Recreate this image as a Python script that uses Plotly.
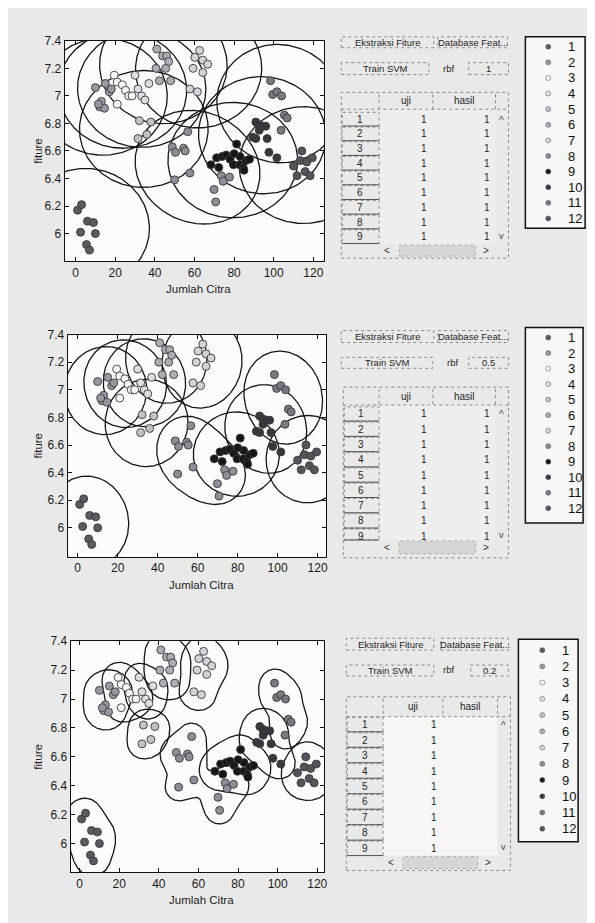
import numpy as np
import plotly.graph_objects as go

W, H = 595, 923

# ---------------- data ----------------
class_names = ['1', '2', '3', '4', '5', '6', '7', '8', '9', '10', '11', '12']

c1_x = [1, 3, 6, 9, 2.5, 10, 5.5, 7]
c1_y = [6.17, 6.21, 6.09, 6.08, 6.01, 6.0, 5.92, 5.88]
c2_x = [10, 12.2, 13, 14.6, 15, 17, 18, 11.5]
c2_y = [7.06, 6.92, 6.96, 6.91, 7.09, 7.03, 7.05, 6.94]
c3_x = [19.5, 21, 23.6, 25.2, 26.8, 28.5, 21]
c3_y = [7.15, 7.10, 7.08, 7.04, 7.0, 7.0, 6.94]
c4_x = [30, 33.3, 35, 37, 31.5]
c4_y = [7.15, 7.0, 6.97, 7.09, 7.05]
c5_x = [32.2, 38, 31.5, 36]
c5_y = [6.82, 6.81, 6.69, 6.72]
c6_x = [41, 43.9, 46, 40.6, 45.5, 42.3, 48, 47]
c6_y = [7.34, 7.29, 7.29, 7.2, 7.2, 7.11, 7.11, 7.25]
c7_x = [62.6, 60.2, 64.2, 66.7, 59.3, 64.2, 57.7, 61.5]
c7_y = [7.33, 7.28, 7.26, 7.23, 7.2, 7.17, 7.05, 7.03]
c8_x = [56.6, 48.8, 50.4, 54.5, 55.3, 57.7, 50, 73.5, 74.5, 77.7, 69.9, 70.7]
c8_y = [6.74, 6.63, 6.59, 6.62, 6.6, 6.44, 6.39, 6.42, 6.38, 6.41, 6.32, 6.23]
c9_x = [68.3, 71.2, 74, 76, 78, 79.7, 81.3, 82.9, 84.6, 86, 87.8, 83, 85, 80, 72.3]
c9_y = [6.5, 6.55, 6.56, 6.57, 6.54, 6.5, 6.65, 6.5, 6.48, 6.53, 6.54, 6.56, 6.46, 6.58, 6.48]
c10_x = [91, 92.5, 94.5, 96, 92.7, 91, 96.7, 89.4, 97.6, 101.6]
c10_y = [6.81, 6.79, 6.78, 6.78, 6.75, 6.69, 6.69, 6.7, 6.59, 6.55]
c11_x = [98.4, 99.5, 101.6, 104, 105.4, 103.7, 106.8]
c11_y = [7.11, 7.01, 7.03, 7.0, 6.86, 6.75, 6.84]
c12_x = [110, 113.4, 116.7, 115.9, 118.4, 111.8, 114.2, 119.5]
c12_y = [6.49, 6.53, 6.52, 6.45, 6.42, 6.42, 6.6, 6.55]

class_x = [c1_x, c2_x, c3_x, c4_x, c5_x, c6_x, c7_x, c8_x, c9_x, c10_x, c11_x, c12_x]
class_y = [c1_y, c2_y, c3_y, c4_y, c5_y, c6_y, c7_y, c8_y, c9_y, c10_y, c11_y, c12_y]

x_ticks = [0, 20, 40, 60, 80, 100, 120]
y_ticks = [6.0, 6.2, 6.4, 6.6, 6.8, 7.0, 7.2, 7.4]
y_tick_text = ['6', '6.2', '6.4', '6.6', '6.8', '7', '7.2', '7.4']

rbf_values = ['1', '0.5', '0.2']
table_rows = ['1', '2', '3', '4', '5', '6', '7', '8', '9']
uji_values = ['1', '1', '1', '1', '1', '1', '1', '1', '1']
hasil_values = [['1'] * 9, ['1'] * 9, [''] * 9]

# ---------------- styles ----------------
class_fill = ['#5a5a60', '#9a96a4', '#f6f6f6', '#dedee2', '#c2c0c8', '#aeaab6',
              '#d4d2d8', '#8e8c96', '#161616', '#38363e', '#7a7882', '#55535c']
BG = '#e9e9e9'
FONT = 'Liberation Sans, Arial, sans-serif'

# plot boxes in pixels: (left, top, right, bottom), x range, y range, kernel widths
panels = [
    dict(box=(57, 26, 318, 248), xr=(-5.5, 125.6), yr=(5.8, 7.4),
         sx=27, sy=0.35, level=0.48, norm=True, n=(181, 141), pad=(10, 0.1)),
    dict(box=(60, 322, 320, 546), xr=(-5.0, 124.4), yr=(5.79, 7.4),
         sx=14, sy=0.21, level=0.33, norm=True, n=(201, 161), pad=(10, 0.1)),
    dict(box=(63, 631, 318, 864), xr=(-4.5, 123.6), yr=(5.8, 7.4),
         sx=4.8, sy=0.066, level=0.38, norm=False, n=(321, 241), pad=(10, 0.1)),
]

gui = [
    dict(b1=(335, 22, 428, 33), b2=(432, 22, 502, 33), b3=(335, 48, 423, 60), rbf=(443, 54),
         vb=(463, 48, 503, 60), tb=(335, 78, 503, 245), hdr=95, c1=373, c2=427, c3=490,
         row0=105, drow=14.8, hs=(232, 243),
         leg=(520, 22, 580, 215), mx=543, tx=561, i0=32, i1=205),
    dict(b1=(335, 318, 428, 330), b2=(432, 318, 503, 330), b3=(335, 345, 427, 356), rbf=(447, 350),
         vb=(463, 345, 503, 356), tb=(337, 375, 503, 547), hdr=393, c1=373, c2=427, c3=490,
         row0=402, drow=15.4, hs=(530, 543),
         leg=(520, 315, 578, 512), mx=543, tx=561, i0=325, i1=497),
    dict(b1=(340, 628, 428, 640), b2=(435, 628, 503, 640), b3=(340, 655, 428, 666), rbf=(443, 660),
         vb=(465, 655, 503, 666), tb=(340, 687, 505, 862), hdr=707, c1=377, c2=437, c3=492,
         row0=715, drow=15.6, hs=(848, 860),
         leg=(513, 629, 573, 833), mx=537, tx=555, i0=640, i1=820),
]


def fx(px):
    return px / W


def fy(py):
    return 1 - py / H


shapes = []
annotations = []


def rect(x0, y0, x1, y1, color='#8a8a8a', width=1, dash='dot', fill='rgba(0,0,0,0)', layer='above'):
    shapes.append(dict(type='rect', xref='paper', yref='paper', x0=fx(x0), x1=fx(x1),
                       y0=fy(y1), y1=fy(y0), line=dict(color=color, width=width, dash=dash),
                       fillcolor=fill, layer=layer))


def hline(x0, x1, y, color='#8a8a8a', width=1, dash='dot'):
    shapes.append(dict(type='line', xref='paper', yref='paper', x0=fx(x0), x1=fx(x1),
                       y0=fy(y), y1=fy(y), line=dict(color=color, width=width, dash=dash)))


def vline(x, y0, y1, color='#8a8a8a', width=1, dash='dot'):
    shapes.append(dict(type='line', xref='paper', yref='paper', x0=fx(x), x1=fx(x),
                       y0=fy(y0), y1=fy(y1), line=dict(color=color, width=width, dash=dash)))


def text(t, x, y, size=10, xanchor='center', color='#1e1e1e', angle=0, family=FONT):
    annotations.append(dict(text=t, x=fx(x), y=fy(y), xref='paper', yref='paper',
                            showarrow=False, xanchor=xanchor, yanchor='middle',
                            font=dict(size=size, color=color, family=family), textangle=angle))


def iso_paths(gx, gy, Z, L):
    """Marching squares, joined into continuous paths (None-separated)."""
    B = Z > L
    s = B[:-1, :-1].astype(int) + B[:-1, 1:] + B[1:, 1:] + B[1:, :-1]
    cells = np.argwhere((s > 0) & (s < 4))
    pts = {}
    adj = {}

    def cross(x0, y0, z0, x1, y1, z1):
        tt = (L - z0) / (z1 - z0)
        return (x0 + tt * (x1 - x0), y0 + tt * (y1 - y0))

    for i, j in cells:
        a, b, c, d = Z[i, j], Z[i, j + 1], Z[i + 1, j + 1], Z[i + 1, j]
        x0, x1, y0, y1 = gx[j], gx[j + 1], gy[i], gy[i + 1]
        e = {}
        if (a > L) != (b > L):
            k = ('h', i, j)
            e['B'] = k
            pts[k] = cross(x0, y0, a, x1, y0, b)
        if (b > L) != (c > L):
            k = ('v', i, j + 1)
            e['R'] = k
            pts[k] = cross(x1, y0, b, x1, y1, c)
        if (d > L) != (c > L):
            k = ('h', i + 1, j)
            e['T'] = k
            pts[k] = cross(x0, y1, d, x1, y1, c)
        if (a > L) != (d > L):
            k = ('v', i, j)
            e['L'] = k
            pts[k] = cross(x0, y0, a, x0, y1, d)
        if len(e) == 2:
            pairs = [tuple(e.values())]
        elif len(e) == 4:
            cen = (a + b + c + d) / 4
            if (cen > L) == (a > L):
                pairs = [(e['B'], e['R']), (e['T'], e['L'])]
            else:
                pairs = [(e['B'], e['L']), (e['R'], e['T'])]
        else:
            pairs = []
        for k1, k2 in pairs:
            adj.setdefault(k1, []).append(k2)
            adj.setdefault(k2, []).append(k1)

    used = set()
    out_x, out_y = [], []
    starts = [k for k, v in adj.items() if len(v) == 1] + list(adj.keys())
    for st in starts:
        if all(frozenset((st, n)) in used for n in adj[st]):
            continue
        path = [st]
        cur = st
        while True:
            nxt = None
            for n in adj[cur]:
                if frozenset((cur, n)) not in used:
                    nxt = n
                    break
            if nxt is None:
                break
            used.add(frozenset((cur, nxt)))
            path.append(nxt)
            cur = nxt
        for k in path:
            out_x.append(pts[k][0])
            out_y.append(pts[k][1])
        out_x.append(None)
        out_y.append(None)
    return out_x, out_y


fig = go.Figure()
layout_axes = {}

for p, P in enumerate(panels):
    xa = 'x' if p == 0 else f'x{p + 1}'
    ya = 'y' if p == 0 else f'y{p + 1}'
    l, t, r, b = P['box']
    rect(l, t, r, b, color='rgba(0,0,0,0)', width=0, fill='#fcfcfc', layer='below')

    axstyle = dict(showline=True, linecolor='#111', linewidth=1.3, mirror='allticks',
                   ticks='inside', ticklen=4, tickcolor='#111', showgrid=False, zeroline=False,
                   tickfont=dict(family=FONT, size=12, color='#1a1a1a'))
    layout_axes['xaxis' if p == 0 else f'xaxis{p + 1}'] = dict(
        domain=[fx(l), fx(r)], range=list(P['xr']), anchor=ya, tickvals=x_ticks, **axstyle)
    layout_axes['yaxis' if p == 0 else f'yaxis{p + 1}'] = dict(
        domain=[fy(b), fy(t)], range=list(P['yr']), anchor=xa, tickvals=y_ticks,
        ticktext=y_tick_text, **axstyle)

    # decision-like boundaries from a Gaussian kernel field of each class
    gx = np.linspace(P['xr'][0] - P['pad'][0], P['xr'][1] + P['pad'][0], P['n'][0])
    gy = np.linspace(P['yr'][0] - P['pad'][1], P['yr'][1] + P['pad'][1], P['n'][1])
    GX, GY = np.meshgrid(gx, gy)
    lx, ly = [], []
    for c in range(len(class_names)):
        xs = np.array(class_x[c])
        ys = np.array(class_y[c])
        Z = np.zeros_like(GX)
        for xi, yi in zip(xs, ys):
            Z += np.exp(-((GX - xi) ** 2) / (2 * P['sx'] ** 2) - ((GY - yi) ** 2) / (2 * P['sy'] ** 2))
        if P['norm']:
            Z /= len(xs)
        sx_, sy_ = iso_paths(gx, gy, Z, P['level'])
        lx += [None if v is None else round(float(v), 3) for v in sx_]
        ly += [None if v is None else round(float(v), 4) for v in sy_]
    fig.add_trace(go.Scatter(x=lx, y=ly, mode='lines', xaxis=xa, yaxis=ya,
                             line=dict(color='#151515', width=1.3), connectgaps=False,
                             hoverinfo='skip', showlegend=False))

    for c in range(len(class_names)):
        fig.add_trace(go.Scatter(
            x=class_x[c], y=class_y[c], mode='markers', xaxis=xa, yaxis=ya, name=class_names[c],
            marker=dict(size=8, color=class_fill[c], line=dict(color='#3a3a3a', width=0.9)),
            showlegend=False))

    # axis titles
    text('fiture', 30, (t + b) / 2, size=11.5, angle=-90)
    text('Jumlah Citra', (l + r) / 2 + 4, b + 28, size=11.5)

    # ---------- GUI controls ----------
    G = gui[p]
    rect(*G['b1'])
    text('Ekstraksi Fiture', (G['b1'][0] + G['b1'][2]) / 2, (G['b1'][1] + G['b1'][3]) / 2, size=9.5)
    rect(*G['b2'])
    text('Database Feat...', (G['b2'][0] + G['b2'][2]) / 2, (G['b2'][1] + G['b2'][3]) / 2, size=9.5)
    rect(*G['b3'])
    text('Train SVM', (G['b3'][0] + G['b3'][2]) / 2, (G['b3'][1] + G['b3'][3]) / 2, size=9.5)
    text('rbf', G['rbf'][0], G['rbf'][1], size=9.5)
    rect(*G['vb'])
    text(rbf_values[p], (G['vb'][0] + G['vb'][2]) / 2, (G['vb'][1] + G['vb'][3]) / 2, size=9.5)

    # ---------- table ----------
    tl, tt, tr, tbm = G['tb']
    cell_fill = '#f6f6f6' if p == 2 else '#eeeeee'
    rect(G['c1'], G['hdr'], G['c3'], G['hs'][0] - 1, color='rgba(0,0,0,0)', width=0,
         fill=cell_fill, layer='below')
    rect(tl, tt, tr, tbm)
    hline(tl, tr, G['hdr'])
    for cx in (G['c1'], G['c2'], G['c3']):
        vline(cx, tt + 2, G['hdr'])
    text('uji', (G['c1'] + G['c2']) / 2, (tt + G['hdr']) / 2, size=10)
    text('hasil', (G['c2'] + G['c3']) / 2, (tt + G['hdr']) / 2, size=10)
    for i, lab in enumerate(table_rows):
        yc = G['row0'] + i * G['drow']
        top = yc - G['drow'] / 2 + 0.5
        bot = min(yc + G['drow'] / 2 - 0.5, G['hs'][0] - 1)
        rect(tl + 1, top, G['c1'], bot, color='#8c8c8c', width=1, dash='dot')
        hline(tl + 1, G['c1'], bot, color='#555', width=1, dash='solid')
        text(lab, (tl + G['c1']) / 2, yc, size=10)
        text(uji_values[i], G['c2'] - 4, yc, size=10, xanchor='right')
        if hasil_values[p][i]:
            text(hasil_values[p][i], G['c3'] - 4, yc, size=10, xanchor='right')
    text('^', G['c3'] + 6, G['row0'] + 1, size=10, color='#444')
    text('v', G['c3'] + 6, G['row0'] + 8 * G['drow'] - 1, size=9, color='#444')
    h0, h1 = G['hs']
    rect(G['c1'] + 20, h0, G['c3'] - 20, h1, color='#b0b0b0', width=1, dash='dot', fill='#d6d6d6')
    text('<', G['c1'] + 8, (h0 + h1) / 2, size=10, color='#333')
    text('>', G['c3'] - 10, (h0 + h1) / 2, size=10, color='#333')

    # ---------- legend ----------
    ll, lt, lr, lb = G['leg']
    rect(ll, lt, lr, lb, color='#111', width=1.5, dash='solid', fill='#f7f7f7', layer='below')
    k = p + 4
    layout_axes[f'xaxis{k}'] = dict(domain=[fx(G['mx'] - 6), fx(G['mx'] + 6)], range=[-1, 1],
                                    visible=False, anchor=f'y{k}', fixedrange=True)
    layout_axes[f'yaxis{k}'] = dict(domain=[fy(G['i1']), fy(G['i0'])], range=[12, 1],
                                    visible=False, anchor=f'x{k}', fixedrange=True)
    idx = list(range(1, len(class_names) + 1))
    fig.add_trace(go.Scatter(
        x=[0] * len(idx), y=idx, mode='markers', xaxis=f'x{k}', yaxis=f'y{k}',
        marker=dict(size=5, color=class_fill, line=dict(color='#555', width=0.5)),
        showlegend=False, hoverinfo='skip', cliponaxis=False))
    for i, name in zip(idx, class_names):
        annotations.append(dict(text=name, x=0, y=i, xref=f'x{k}', yref=f'y{k}', showarrow=False,
                                xanchor='left', yanchor='middle', xshift=G['tx'] - G['mx'],
                                font=dict(size=13, color='#111', family=FONT)))

fig.update_layout(
    width=W, height=H, margin=dict(l=0, r=0, t=0, b=0),
    paper_bgcolor=BG, plot_bgcolor='rgba(0,0,0,0)',
    showlegend=False, shapes=shapes, annotations=annotations,
    **layout_axes)

fig.write_html('out.html')
